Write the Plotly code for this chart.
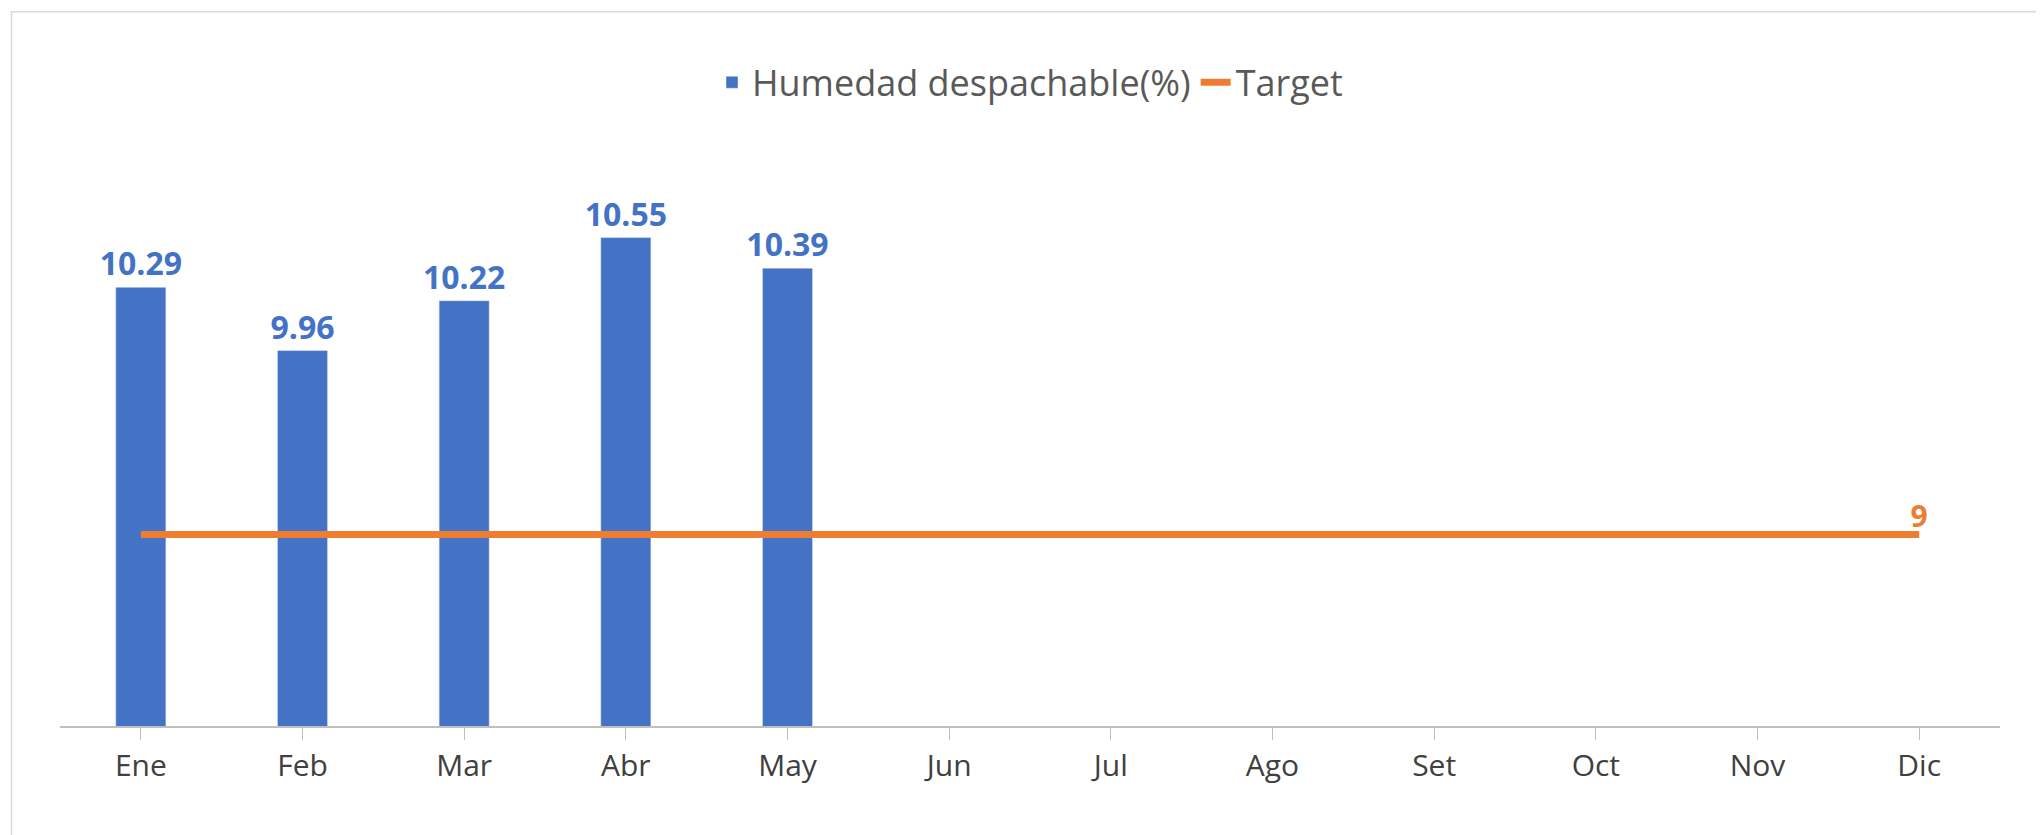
import plotly.graph_objects as go

months = ['Ene', 'Feb', 'Mar', 'Abr', 'May', 'Jun', 'Jul', 'Ago', 'Set', 'Oct', 'Nov', 'Dic']
humedad = [10.29, 9.96, 10.22, 10.55, 10.39]
target = [9] * 12

BLUE = '#4472C4'
ORANGE = '#ED7D31'

fig = go.Figure()

fig.add_trace(go.Bar(
    x=months[:len(humedad)], y=humedad,
    name='Humedad despachable(%)',
    marker_color=BLUE, width=0.31,
    text=[f'{v:.2f}' for v in humedad], textposition='outside',
    textfont=dict(size=32, color=BLUE, family='Open Sans'),
    texttemplate='<b>%{text}</b>', cliponaxis=False, constraintext='none'
))

fig.add_trace(go.Scatter(
    x=months, y=target, name='Target', mode='lines+text',
    line=dict(color=ORANGE, width=7),
    text=[''] * 11 + ['<b>9</b>'], textposition='top center',
    textfont=dict(size=30, color=ORANGE, family='Open Sans'),
    cliponaxis=False
))

fig.update_xaxes(
    categoryorder='array', categoryarray=months, range=[-0.5, 11.5],
    showline=True, linecolor='#BFBFBF', linewidth=1.5,
    ticks='outside', tickcolor='#BFBFBF', ticklen=12,
    tickfont=dict(size=30, color='#404040')
)
fig.update_yaxes(range=[8, 11.2], visible=False, showgrid=False)

fig.update_layout(
    width=2044, height=835,
    plot_bgcolor='white', paper_bgcolor='white',
    font=dict(family='Open Sans', color='#404040'),
    bargap=0.7,
    margin=dict(l=52, r=52, t=105, b=117),
    legend=dict(orientation='h', x=0.5, xanchor='center', y=1.05, yanchor='middle',
                font=dict(size=36, color='#595959')),
    shapes=[dict(type='rect', xref='paper', yref='paper', x0=-0.025, x1=1.025,
                 y0=-0.185, y1=1.165, line=dict(color='#D9D9D9', width=1.5))]
)

fig.write_html('out.html')
